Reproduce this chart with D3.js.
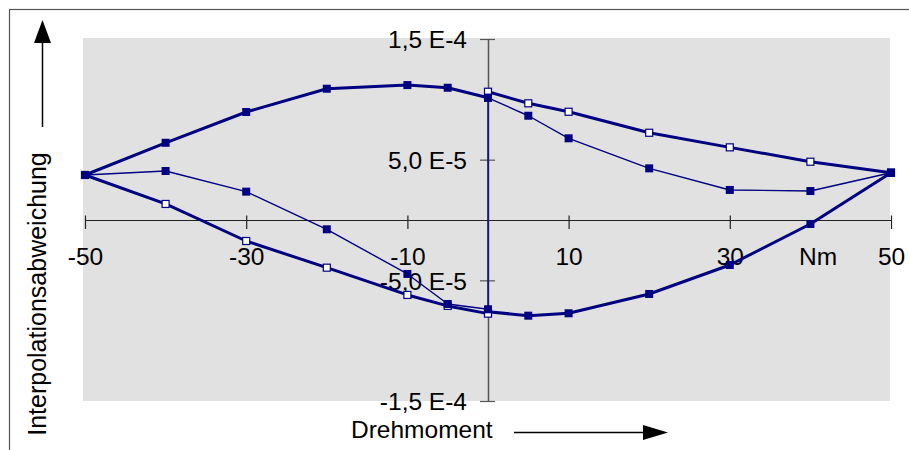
<!DOCTYPE html>
<html>
<head>
<meta charset="utf-8">
<script src="https://cdn.jsdelivr.net/npm/d3@7"></script>
<style>
  body { margin: 0; background: #fff; }
  text { font-family: "Liberation Sans", Arial, sans-serif; }
</style>
</head>
<body>
<div class="canvas"></div>
<script>
var width = 909,
	height = 450;

// torque positions (Nm)
var xLeft = [-50, -40, -30, -20, -10, -5, 0];
var xRight = [0, 5, 10, 20, 30, 40, 50];
var xThin = [-50, -40, -30, -20, -10, -5, 0, 0, 5, 10, 20, 30, 40, 50];

// interpolation deviation
var upperLeft = [3.73e-5, 6.40e-5, 8.95e-5, 10.88e-5, 11.18e-5, 10.96e-5, 10.13e-5];
var upperRight = [10.63e-5, 9.67e-5, 8.97e-5, 7.23e-5, 6.02e-5, 4.83e-5, 3.92e-5];
var lowerLeft = [3.73e-5, 1.33e-5, -1.74e-5, -3.95e-5, -6.21e-5, -7.12e-5, -7.76e-5];
var lowerRight = [-7.60e-5, -7.93e-5, -7.73e-5, -6.13e-5, -3.73e-5, -0.33e-5, 3.92e-5];
var thinSeries = [3.73e-5, 4.06e-5, 2.35e-5, -0.77e-5, -4.47e-5, -6.96e-5, -7.40e-5,
	10.13e-5, 8.64e-5, 6.77e-5, 4.28e-5, 2.49e-5, 2.40e-5, 3.92e-5];

var xTicks = [-50, -30, -10, 10, 30, 50];
var yTicks = [1.5e-4, 5e-5, -5e-5, -1.5e-4];
var yTickLabels = ["1,5 E-4", "5,0 E-5", "-5,0 E-5", "-1,5 E-4"];

var navy = "#000080";

var canvas = d3.select(".canvas")
	.append("svg")
	.attr("width", width)
	.attr("height", height);

// outer frame (only top and left visible)
canvas.append("rect")
	.attr("x", 9.5).attr("y", 9.5)
	.attr("width", 1000).attr("height", 1000)
	.attr("fill", "none")
	.attr("stroke", "#555")
	.attr("stroke-width", 1.2);

var x = d3.scaleLinear().domain([-50, 50]).range([85, 891]);
var y = d3.scaleLinear().domain([-1.5e-4, 1.5e-4]).range([401, 39]);

// plot background
canvas.append("rect")
	.attr("x", 83).attr("y", 38)
	.attr("width", 807).attr("height", 363)
	.attr("fill", "#e1e1e1");

/* ---------- axes ---------- */
var xAxis = canvas.append("g")
	.attr("transform", "translate(0," + y(0) + ")")
	.call(d3.axisBottom(x).tickValues(xTicks)
		.tickFormat(function(d) { return String(d); })
		.tickSizeOuter(0));
xAxis.select(".domain").attr("stroke", "#222").attr("stroke-width", 1.2);
xAxis.selectAll(".tick line").attr("y1", -4.5).attr("y2", 9).attr("stroke", "#222").attr("stroke-width", 1.2);
xAxis.selectAll(".tick text")
	.attr("y", 45).attr("dy", 0)
	.attr("font-size", 24.5)
	.attr("font-family", "Liberation Sans, Arial, sans-serif")
	.attr("fill", "#000");

var yAxis = canvas.append("g")
	.attr("transform", "translate(" + x(0) + ",0)")
	.call(d3.axisLeft(y).tickValues(yTicks)
		.tickFormat(function(d, i) { return yTickLabels[i]; })
		.tickSizeOuter(0));
yAxis.select(".domain").attr("stroke", "#555").attr("stroke-width", 1.5);
yAxis.selectAll(".tick line").attr("x1", -8).attr("x2", 7).attr("stroke", "#555").attr("stroke-width", 1.2);
yAxis.selectAll(".tick text")
	.attr("x", -21).attr("dy", "0.36em")
	.attr("font-size", 24.5)
	.attr("font-family", "Liberation Sans, Arial, sans-serif")
	.attr("fill", "#000");

// unit label
canvas.append("text")
	.attr("x", 818).attr("y", 265)
	.attr("text-anchor", "middle")
	.attr("font-size", 24.5)
	.text("Nm");

/* ---------- series ---------- */
var line = d3.line()
	.x(function(d) { return x(d[0]); })
	.y(function(d) { return y(d[1]); });

var series = [
	{ xs: xRight, ys: lowerRight, w: 3, open: false },
	{ xs: xLeft, ys: lowerLeft, w: 3, open: true },
	{ xs: xRight, ys: upperRight, w: 3, open: true },
	{ xs: xThin, ys: thinSeries, w: 1.4, open: false },
	{ xs: xLeft, ys: upperLeft, w: 3, open: false }
];

series.forEach(function(s) {
	s.pts = s.xs.map(function(v, i) { return [v, s.ys[i]]; });
	canvas.append("path")
		.datum(s.pts)
		.attr("d", line)
		.attr("fill", "none")
		.attr("stroke", navy)
		.attr("stroke-width", s.w)
		.attr("stroke-linejoin", "round");
});

series.forEach(function(s) {
	canvas.append("g").selectAll("rect")
		.data(s.pts)
		.enter().append("rect")
		.attr("x", function(d) { return x(d[0]) - (s.open ? 3.5 : 4); })
		.attr("y", function(d) { return y(d[1]) - (s.open ? 3.5 : 4); })
		.attr("width", s.open ? 7 : 8)
		.attr("height", s.open ? 7 : 8)
		.attr("fill", s.open ? "#fff" : navy)
		.attr("stroke", s.open ? navy : "none")
		.attr("stroke-width", 1.2);
});

/* ---------- titles with arrows ---------- */
canvas.append("text")
	.attr("transform", "translate(46,294) rotate(-90)")
	.attr("text-anchor", "middle")
	.attr("font-size", 25)
	.text("Interpolationsabweichung");

canvas.append("line")
	.attr("x1", 42.5).attr("y1", 127)
	.attr("x2", 42.5).attr("y2", 40)
	.attr("stroke", "#000").attr("stroke-width", 1.5);
canvas.append("path")
	.attr("d", "M42.5,20 L51,43 L34,43 Z")
	.attr("fill", "#000");

canvas.append("text")
	.attr("x", 351).attr("y", 438)
	.attr("font-size", 24.5)
	.text("Drehmoment");

canvas.append("line")
	.attr("x1", 514).attr("y1", 432.5)
	.attr("x2", 646).attr("y2", 432.5)
	.attr("stroke", "#000").attr("stroke-width", 1.5);
canvas.append("path")
	.attr("d", "M668,432.5 L643,425 L643,440 Z")
	.attr("fill", "#000");
</script>
</body>
</html>
